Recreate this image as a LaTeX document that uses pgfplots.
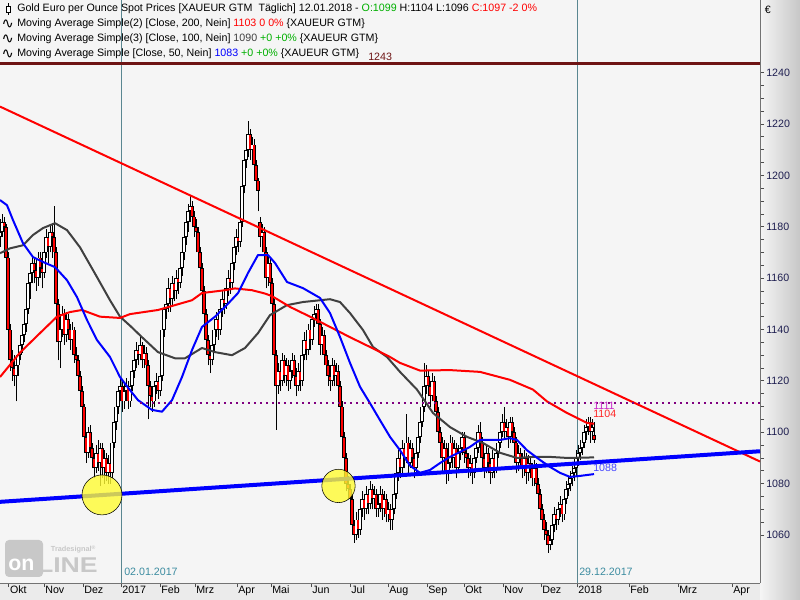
\documentclass[border=0pt]{standalone}
\usepackage{pgfplots}
\pgfplotsset{compat=1.18}
\usepackage{pgfplotstable}
\usepackage{fontspec}
\setmainfont{Liberation Sans}
\newfontfamily\dejavu{DejaVu Sans}
\definecolor{bgplot}{RGB}{245,245,245}
\definecolor{maroonl}{RGB}{110,20,20}
\definecolor{magray}{RGB}{64,64,64}
\definecolor{vline}{RGB}{90,135,145}
\definecolor{vtext}{RGB}{60,140,160}
\definecolor{ticklab}{RGB}{30,30,80}
\definecolor{ygreen}{RGB}{0,175,0}
\definecolor{hlyellow}{RGB}{255,252,50}
\definecolor{dotpurple}{RGB}{128,0,128}
\definecolor{lbl1111}{RGB}{200,40,200}
\definecolor{lbl1088}{RGB}{70,70,255}
\definecolor{logogray}{RGB}{200,200,200}

\pgfplotstableread{
x o h l c
0 1176 1183 1172 1178
2 1178 1185 1176 1182
4 1182 1184 1174 1180
6 1180 1181 1165 1168
8 1168 1170 1136 1140
10 1140 1142 1124 1128
12 1128 1132 1120 1125
14 1125 1130 1118 1122
16 1122 1128 1112 1126
18 1126 1133 1122 1130
20 1130 1137 1128 1134
22 1134 1140 1131 1138
24 1138 1145 1135 1142
26 1142 1150 1139 1148
28 1148 1160 1146 1158
30 1158 1165 1152 1162
32 1162 1169 1158 1166
34 1166 1168 1158 1163
36 1163 1165 1155 1160
38 1160 1170 1157 1168
40 1168 1170 1160 1164
42 1164 1167 1156 1162
44 1162 1172 1160 1170
46 1170 1179 1168 1176
48 1176 1178 1166 1172
50 1172 1181 1170 1178
52 1178 1181 1168 1176
54 1176 1188 1166 1170
56 1170 1172 1146 1150
58 1150 1152 1128 1135
60 1135 1143 1125 1140
62 1140 1149 1137 1146
64 1146 1148 1134 1138
66 1138 1147 1135 1144
68 1144 1146 1136 1140
70 1140 1142 1132 1136
72 1136 1143 1133 1140
74 1140 1141 1127 1130
76 1130 1133 1124 1128
78 1128 1130 1119 1122
80 1122 1124 1113 1116
82 1116 1118 1106 1110
84 1110 1111 1094 1098
86 1098 1100 1088 1092
88 1092 1102 1090 1100
90 1100 1103 1091 1094
92 1094 1096 1086 1090
94 1090 1092 1082 1086
96 1086 1095 1084 1092
98 1092 1097 1085 1088
100 1088 1096 1079 1094
102 1094 1096 1082 1086
104 1086 1093 1080 1090
106 1090 1092 1081 1084
108 1084 1091 1080 1088
110 1088 1090 1080 1084
112 1084 1098 1082 1096
114 1096 1106 1094 1104
116 1104 1113 1101 1110
118 1110 1118 1107 1116
120 1116 1121 1112 1118
122 1118 1120 1108 1112
124 1112 1119 1109 1116
126 1116 1121 1113 1118
128 1118 1120 1109 1112
130 1112 1121 1110 1118
132 1118 1127 1116 1124
134 1124 1131 1121 1128
136 1128 1135 1125 1132
138 1132 1134 1126 1130
140 1130 1137 1128 1134
142 1134 1135 1125 1128
144 1128 1134 1125 1131
146 1131 1133 1122 1126
148 1126 1128 1105 1118
150 1118 1120 1110 1114
152 1114 1116 1108 1112
154 1112 1120 1110 1118
156 1118 1123 1115 1120
158 1120 1122 1113 1116
160 1116 1124 1114 1122
162 1122 1142 1120 1140
164 1140 1150 1137 1148
166 1148 1153 1144 1150
168 1150 1160 1147 1156
170 1156 1158 1147 1152
172 1152 1161 1149 1158
174 1158 1160 1151 1155
176 1155 1163 1152 1160
178 1160 1162 1154 1158
180 1158 1167 1156 1164
182 1164 1172 1161 1170
184 1170 1178 1167 1176
186 1176 1185 1173 1182
188 1182 1189 1178 1186
190 1186 1192 1182 1188
192 1188 1190 1180 1184
194 1184 1186 1176 1180
196 1180 1183 1173 1178
198 1178 1180 1166 1170
200 1170 1172 1160 1164
202 1164 1166 1151 1155
204 1155 1157 1142 1146
206 1146 1148 1132 1136
208 1136 1138 1126 1130
210 1130 1134 1123 1128
212 1128 1136 1126 1134
214 1134 1143 1131 1140
216 1140 1147 1137 1144
218 1144 1146 1136 1140
220 1140 1150 1138 1148
222 1148 1155 1145 1152
224 1152 1155 1146 1150
226 1150 1159 1148 1156
228 1156 1163 1153 1160
230 1160 1162 1154 1158
232 1158 1168 1156 1166
234 1166 1175 1163 1172
236 1172 1179 1169 1176
238 1176 1178 1170 1174
240 1174 1185 1172 1182
242 1182 1199 1180 1196
244 1196 1208 1193 1206
246 1206 1213 1203 1210
248 1210 1221 1207 1216
250 1216 1218 1206 1210
252 1210 1215 1207 1212
254 1212 1214 1200 1204
256 1204 1206 1194 1198
258 1198 1199 1186 1194
260 1182 1184 1172 1176
262 1176 1181 1170 1178
264 1178 1180 1166 1170
266 1170 1172 1156 1160
268 1160 1169 1157 1166
270 1166 1168 1154 1158
272 1158 1160 1146 1150
274 1150 1152 1126 1130
276 1130 1132 1101 1118
278 1118 1127 1115 1124
280 1124 1126 1116 1120
282 1120 1131 1118 1128
284 1128 1130 1119 1122
286 1122 1129 1118 1126
288 1126 1128 1116 1120
290 1120 1127 1117 1124
292 1124 1131 1121 1128
294 1128 1130 1119 1122
296 1122 1125 1114 1118
298 1118 1127 1116 1124
300 1124 1126 1116 1120
302 1120 1133 1118 1130
304 1130 1139 1128 1136
306 1136 1138 1128 1132
308 1132 1142 1130 1140
310 1140 1142 1132 1136
312 1136 1146 1134 1144
314 1144 1149 1141 1146
316 1146 1150 1143 1148
318 1148 1150 1138 1142
320 1142 1144 1130 1134
322 1134 1141 1131 1138
324 1138 1140 1127 1130
326 1130 1132 1122 1126
328 1126 1128 1118 1122
330 1122 1125 1116 1120
332 1120 1129 1118 1126
334 1126 1128 1118 1122
336 1122 1127 1119 1124
338 1124 1126 1115 1118
340 1118 1120 1106 1110
342 1110 1112 1094 1098
344 1098 1100 1086 1090
346 1090 1092 1077 1080
348 1080 1083 1074 1078
350 1078 1080 1070 1074
352 1074 1076 1060 1064
354 1064 1066 1057 1060
356 1060 1069 1058 1066
358 1066 1068 1059 1062
360 1062 1073 1060 1070
362 1070 1077 1067 1074
364 1074 1076 1066 1070
366 1070 1079 1068 1076
368 1076 1078 1068 1072
370 1072 1081 1070 1078
372 1078 1080 1070 1074
374 1074 1079 1071 1076
376 1076 1078 1067 1070
378 1070 1075 1067 1072
380 1072 1079 1069 1076
382 1076 1078 1066 1070
384 1070 1077 1067 1074
386 1074 1076 1065 1068
388 1068 1073 1065 1070
390 1070 1072 1062 1066
392 1066 1073 1062 1070
394 1070 1079 1068 1076
396 1076 1087 1074 1084
398 1084 1093 1081 1090
400 1090 1092 1082 1086
402 1086 1097 1084 1094
404 1094 1096 1086 1090
406 1090 1107 1088 1096
408 1096 1098 1084 1088
410 1088 1097 1086 1094
412 1094 1096 1086 1090
414 1090 1092 1082 1086
416 1086 1095 1084 1092
418 1092 1101 1090 1098
420 1098 1107 1096 1104
422 1104 1113 1102 1110
424 1110 1127 1108 1118
426 1118 1126 1115 1122
428 1122 1124 1114 1118
430 1118 1120 1110 1114
432 1114 1123 1112 1120
434 1120 1122 1108 1112
436 1112 1114 1104 1108
438 1108 1110 1096 1100
440 1100 1102 1092 1096
442 1096 1098 1085 1090
444 1090 1097 1087 1094
446 1094 1096 1080 1084
448 1084 1091 1081 1088
450 1088 1099 1086 1096
452 1096 1098 1086 1090
454 1090 1097 1087 1094
456 1094 1096 1082 1086
458 1086 1095 1084 1092
460 1092 1097 1089 1094
462 1094 1100 1091 1098
464 1098 1100 1088 1092
466 1092 1094 1086 1090
468 1090 1092 1082 1086
470 1086 1091 1083 1088
472 1088 1090 1080 1084
474 1084 1093 1082 1090
476 1090 1097 1088 1094
478 1094 1103 1092 1100
480 1100 1104 1093 1096
482 1096 1098 1086 1090
484 1090 1092 1082 1086
486 1086 1095 1084 1092
488 1092 1094 1084 1088
490 1088 1090 1080 1084
492 1084 1093 1082 1090
494 1090 1092 1082 1086
496 1086 1095 1084 1092
498 1092 1099 1090 1096
500 1096 1103 1094 1100
502 1100 1107 1098 1104
504 1104 1110 1097 1100
506 1100 1105 1098 1102
508 1102 1104 1094 1098
510 1098 1106 1096 1104
512 1104 1106 1096 1100
514 1100 1102 1092 1096
516 1096 1098 1084 1088
518 1088 1095 1085 1092
520 1092 1094 1086 1090
522 1090 1092 1082 1086
524 1086 1093 1083 1090
526 1090 1092 1080 1084
528 1084 1091 1081 1088
530 1088 1090 1082 1086
532 1086 1088 1079 1082
534 1082 1089 1079 1086
536 1086 1088 1077 1080
538 1080 1082 1072 1076
540 1076 1078 1066 1070
542 1070 1072 1062 1066
544 1066 1068 1058 1062
546 1062 1065 1056 1060
548 1060 1062 1053 1056
550 1056 1061 1054 1058
552 1058 1067 1056 1064
554 1064 1071 1061 1068
556 1068 1070 1062 1066
558 1066 1073 1064 1070
560 1070 1075 1067 1072
562 1072 1074 1065 1068
564 1068 1077 1066 1074
566 1074 1081 1072 1078
568 1078 1083 1075 1080
570 1080 1085 1077 1082
572 1082 1087 1079 1084
574 1084 1089 1081 1086
576 1086 1093 1083 1090
578 1090 1095 1087 1092
580 1092 1097 1089 1094
582 1094 1099 1091 1096
584 1096 1103 1094 1100
586 1100 1105 1097 1102
588 1102 1106 1099 1104
590 1104 1106 1096 1100
592 1100 1105 1098 1102
594 1099 1104 1096 1097
}\candles

\pgfplotsset{candlepart/.style={draw=none, mark=none, error bars/.cd, y dir=plus, y explicit, error mark=none, error bar style={#1}}}

\begin{document}
\begin{tikzpicture}
% right scale strip and bottom time strip
\shade[left color=black!4, right color=black!22] (570pt,0) rectangle (600pt,450pt);
\fill[black!8] (0,0) rectangle (570pt,12.75pt);
\begin{axis}[
  at={(0,12.75pt)}, anchor=south west,
  scale only axis, width=570pt, height=437.25pt,
  xmin=0, xmax=760, ymin=1041.3, ymax=1268.3,
  axis background/.style={fill=bgplot},
  axis y line*=right, axis x line*=bottom,
  axis line style={black!55, line width=0.75pt},
  ytick={1060,1080,...,1240},
  minor y tick num=3,
  ytick align=outside, xtick align=outside,
  major tick length=3pt, minor tick length=3pt,
  every tick/.style={black!70, line width=0.6pt},
  xtick={8.7,44,83,121,160,195,237,271,311,350,388,427,464,503,541,577,629,678,732},
  xticklabels={Okt,Nov,Dez,2017,Feb,Mrz,Apr,Mai,Jun,Jul,Aug,Sep,Okt,Nov,Dez,2018,Feb,Mrz,Apr},
  /pgf/number format/assume math mode=true,
  /pgf/number format/1000 sep={},
  tick label style={font=\fontsize{8}{9.6}\selectfont, inner sep=0.5pt},
  yticklabel style={text=ticklab, anchor=west, xshift=1pt},
  xticklabel style={anchor=north west, xshift=0.3pt, yshift=1.5pt},
]
% vertical date lines
\addplot[vline, line width=0.75pt] coordinates {(121,1041.3) (121,1268.3)};
\addplot[vline, line width=0.75pt] coordinates {(577,1041.3) (577,1268.3)};

% candles: wicks
\addplot[candlepart={draw=black, line width=0.75pt}]
  table[x=x, y=l, y error plus expr={\thisrow{h}-\thisrow{l}}] {\candles};
% candles: body outlines
\addplot[candlepart={draw=black, line width=3pt}]
  table[x=x, y expr={min(\thisrow{o},\thisrow{c})}, y error plus expr={max(abs(\thisrow{c}-\thisrow{o}),0.4)}] {\candles};
% candles: down bodies (red)
\addplot[candlepart={draw=red, line width=1.3pt}]
  table[x=x, y expr={min(\thisrow{o},\thisrow{c})+0.35}, y error plus expr={(\thisrow{o}>\thisrow{c})*max(abs(\thisrow{c}-\thisrow{o})-0.7,0)}] {\candles};
% candles: up bodies (hollow)
\addplot[candlepart={draw=white, line width=1.3pt}]
  table[x=x, y expr={min(\thisrow{o},\thisrow{c})+0.35}, y error plus expr={(\thisrow{c}>\thisrow{o})*max(abs(\thisrow{c}-\thisrow{o})-0.7,0)}] {\candles};

% MA 100 (dark gray)
\addplot[magray, line width=1.5pt, line join=round] coordinates {
(0,1169.7) (10,1171.6) (23,1172.8) (33,1176.8) (43,1179.5) (55,1181.4) (67,1178.7) (80,1172)
(97,1160.4) (110,1151.4) (120,1145) (130,1141.5) (142,1137) (158,1131.2) (175,1128.8) (185,1128.8)
(202,1132.8) (215,1131.2) (232,1130) (245,1132.8) (258,1138.6) (270,1145.6) (287,1149.5) (303,1150.7)
(330,1151.8) (340,1150.7) (350,1146.4) (363,1139.8) (373,1133.2) (387,1129.3) (400,1123.5) (417,1116.6)
(433,1107.5) (450,1102) (467,1098.2) (483,1095.8) (500,1092) (517,1090) (533,1090.4) (550,1090.4)
(567,1090) (594,1090.2)};
% MA 200 (red)
\addplot[red, line width=1.5pt, line join=round] coordinates {
(0,1121.5) (20,1131) (40,1138.6) (57,1145) (70,1146.8) (82,1147.6) (100,1145) (120,1144.5)
(130,1146) (158,1147.6) (192,1151.4) (202,1154.2) (225,1155.3) (235,1156) (252,1155.3) (265,1154)
(272,1153) (290,1148.8) (310,1145) (330,1141) (350,1137) (370,1133.2) (390,1129.3) (400,1127)
(420,1124) (450,1124.2) (480,1123.5) (510,1120.4) (533,1116.6) (547,1112) (567,1107.5) (587,1103.6)
(594,1103.3)};
% MA 50 (blue)
\addplot[blue, line width=1.5pt, line join=round] coordinates {
(0,1190.4) (7,1188.4) (13,1182.6) (23,1173.6) (33,1168.2) (43,1166.3) (55,1164.3) (67,1159.2)
(77,1152.6) (87,1143.7) (97,1135.9) (110,1129.3) (120,1121.5) (130,1116.4) (138,1112.5) (152,1108.7)
(162,1108) (172,1112.5) (182,1121.5) (192,1132) (202,1141) (215,1145) (225,1148.8) (238,1154.2)
(248,1162) (258,1169) (268,1169) (275,1165.9) (287,1158.5) (303,1156.1) (320,1152.3) (330,1146.4)
(340,1137.1) (350,1127) (360,1117.7) (370,1111.3) (380,1104.7) (390,1098.2) (400,1093) (410,1087)
(420,1084.2) (430,1085.3) (440,1088) (450,1090.4) (460,1092.3) (470,1094.3) (480,1097) (500,1097)
(510,1097.7) (517,1097) (527,1093) (540,1089.2) (550,1086.5) (560,1084.2) (570,1082.6) (580,1083)
(594,1083.7)};

% trend lines
\addplot[red, line width=1.5pt] coordinates {(0,1226.8) (760,1088.6)};
\addplot[blue, line width=3pt] coordinates {(0,1072.9) (760,1092.6)};
% 1111 dotted level
\addplot[dotpurple, line width=1.5pt, dash pattern=on 1.5pt off 3pt] coordinates {(140,1111.5) (760,1111.5)};
% 1243 level
\addplot[maroonl, line width=2.2pt] coordinates {(0,1243.7) (760,1243.7)};

% highlight circles
\addplot[only marks, mark=*, mark size=15pt, mark options={draw=none, fill=hlyellow, fill opacity=0.8}] coordinates {(102,1075.6)};
\addplot[only marks, mark=*, mark size=12.5pt, mark options={draw=none, fill=hlyellow, fill opacity=0.8}] coordinates {(338.5,1079.1)};
\end{axis}

% legend header lines
\begin{scope}[every node/.style={anchor=west, inner sep=0pt, font=\fontsize{8}{9.6}\selectfont}]
\draw[black, line width=0.6pt] (6pt,438.75pt) -- (6pt,447.75pt);
\draw[black, fill=white, line width=0.6pt] (4.5pt,441pt) rectangle (7.5pt,445.5pt);
\node at (12.75pt,443.25pt) {Gold Euro per Ounce Spot Prices [XAUEUR GTM\ \ Täglich] 12.01.2018 - \textcolor{ygreen}{O:1099} H:1104 L:1096 \textcolor{red}{C:1097 -2 0\%}};
\node[font=\dejavu\fontsize{11}{11}\selectfont] at (1pt,432pt) {∿};
\node at (12.75pt,432pt) {Moving Average Simple(2) [Close, 200, Nein] \textcolor{red}{1103 0 0\%} \{XAUEUR GTM\}};
\node[font=\dejavu\fontsize{11}{11}\selectfont] at (1pt,420.75pt) {∿};
\node at (12.75pt,420.75pt) {Moving Average Simple(3) [Close, 100, Nein] \textcolor{magray}{1090} \textcolor{ygreen}{+0 +0\%} \{XAUEUR GTM\}};
\node[font=\dejavu\fontsize{11}{11}\selectfont] at (1pt,409.5pt) {∿};
\node at (12.75pt,409.5pt) {Moving Average Simple [Close, 50, Nein] \textcolor{blue}{1083} \textcolor{ygreen}{+0 +0\%} \{XAUEUR GTM\}};
\node[text=maroonl] at (276pt,407.5pt) {1243};
\node at (573.5pt,442.5pt) {€};
\node[text=vtext] at (93pt,21pt) {02.01.2017};
\node[text=vtext] at (434.25pt,21pt) {29.12.2017};
\node[text=lbl1111] at (444.75pt,145.5pt) {1111};
\node[text=red!85!white] at (444.75pt,139.5pt) {1104};
\node[text=lbl1088] at (444.75pt,99pt) {1088};
\end{scope}

% logo
\fill[logogray, rounded corners=3pt] (3.75pt,17.25pt) rectangle (32.25pt,45pt);
\node[anchor=west, inner sep=0pt, text=white, font=\bfseries\fontsize{16}{16}\selectfont] at (6pt,26pt) {on};
\node[anchor=west, inner sep=0pt, text=logogray, font=\bfseries\fontsize{16}{16}\selectfont, xscale=1.25] at (27.5pt,26pt) {LINE};
\node[anchor=west, inner sep=0pt, text=logogray, font=\bfseries\fontsize{5.5}{6}\selectfont] at (38pt,38pt) {Tradesignal\textsuperscript{®}};

\pgfresetboundingbox
\useasboundingbox (0,0) rectangle (600pt,450pt);
\end{tikzpicture}
\end{document}
